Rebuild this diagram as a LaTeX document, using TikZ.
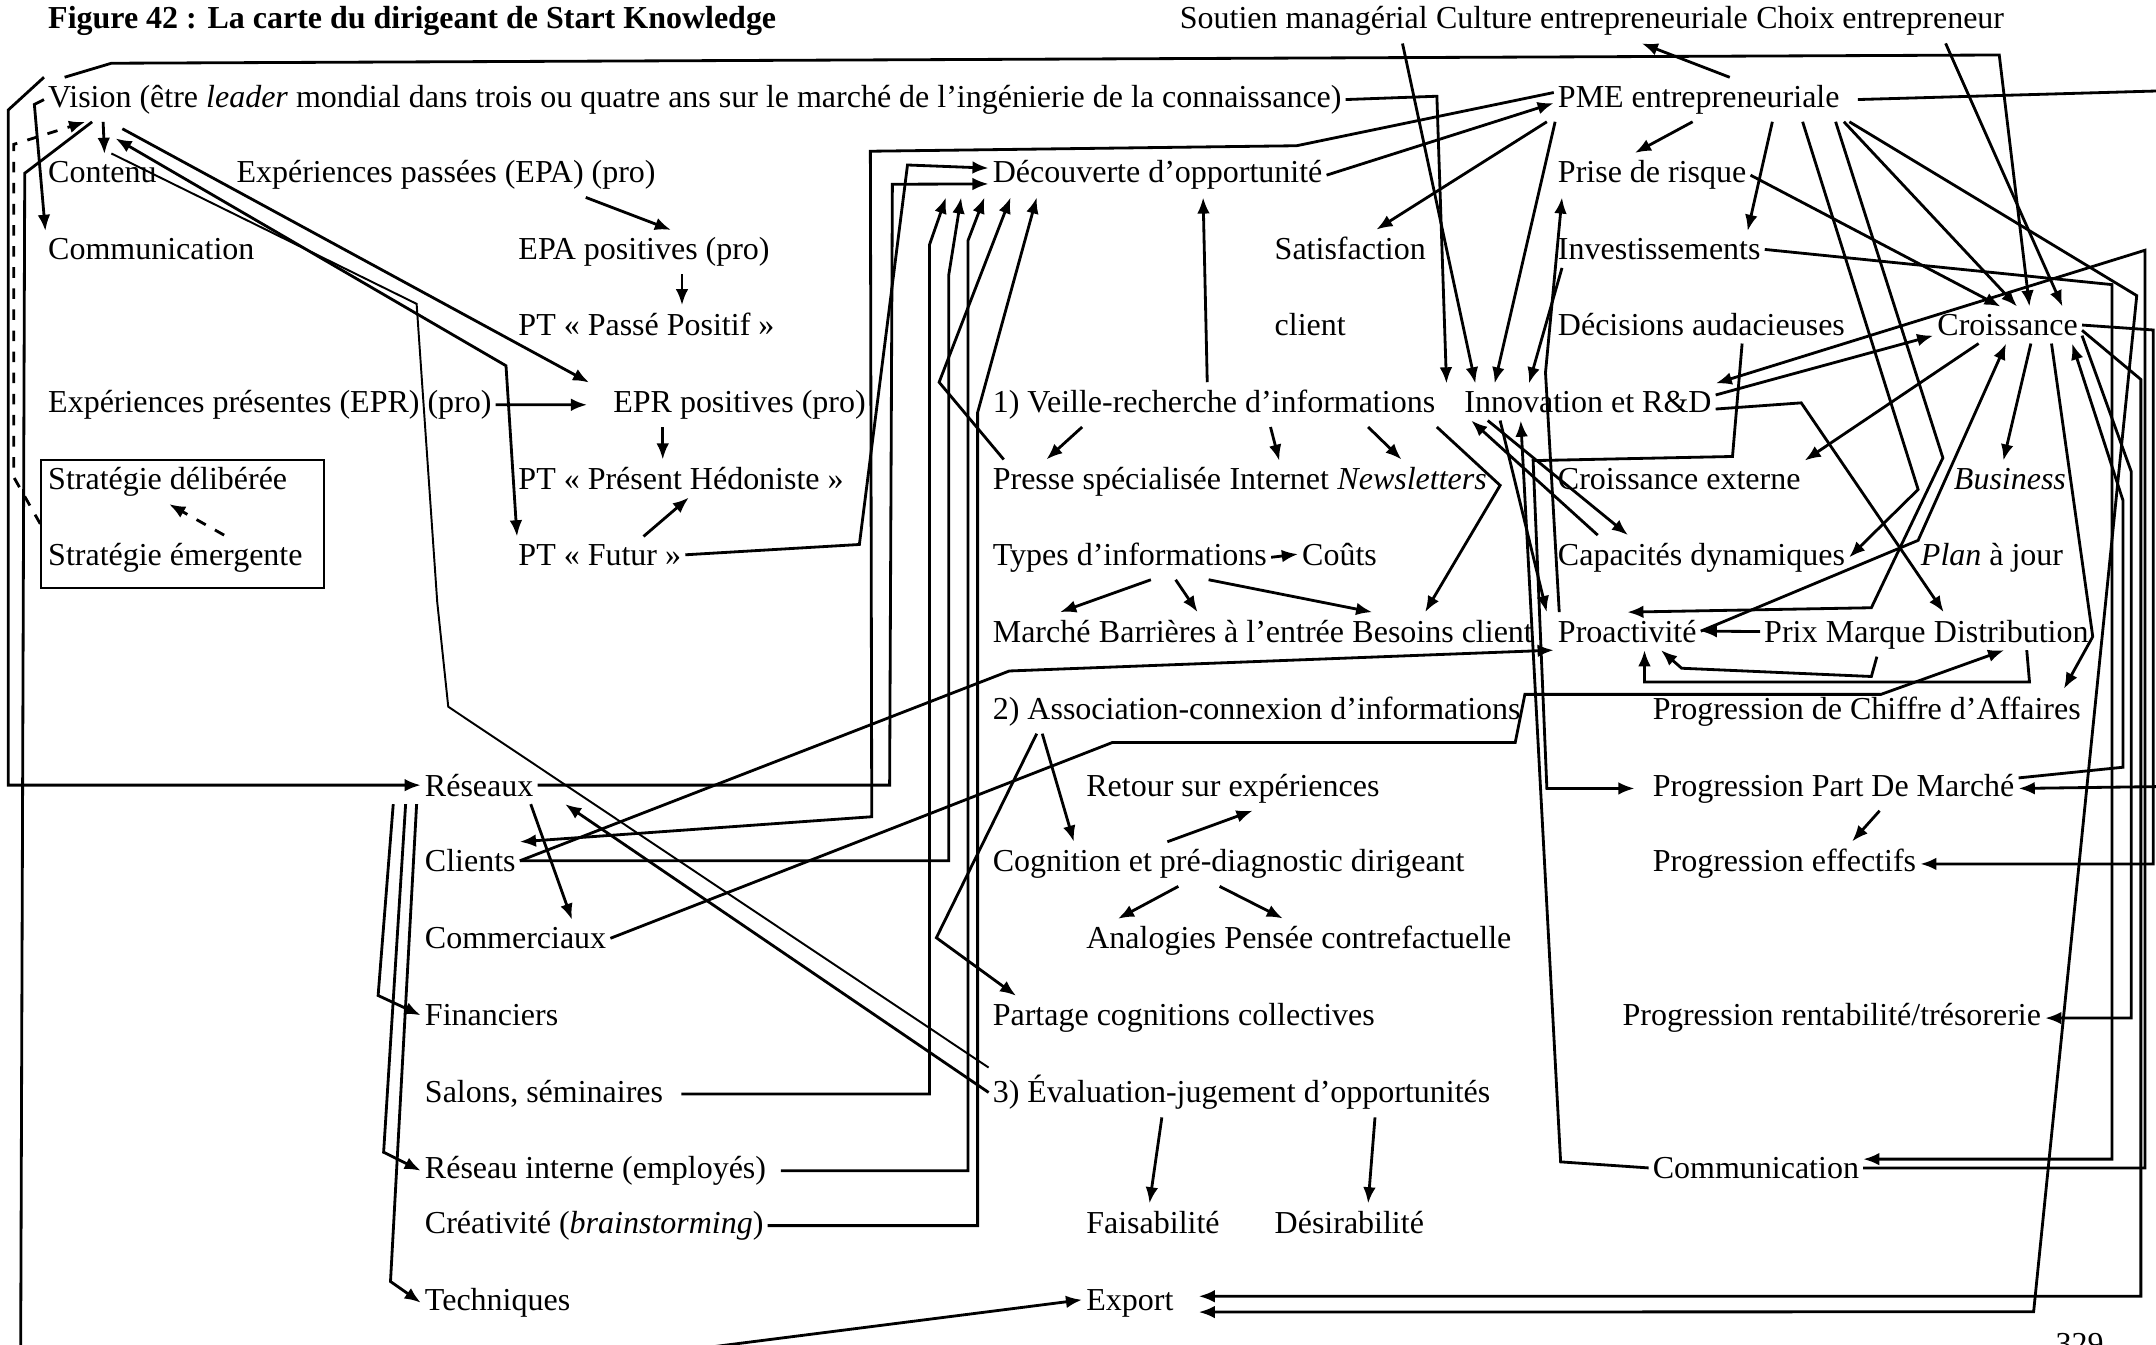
\documentclass[tikz,border=0pt]{standalone}
\usepackage{fontspec}
\setmainfont{Liberation Serif}
\usetikzlibrary{arrows.meta, positioning, calc}

\begin{document}
\begin{tikzpicture}[%
  x=0.01375cm, y=-0.01375cm,%
  txt/.style={anchor=base west, inner xsep=1pt, inner ysep=2pt, font=\fontsize{9.1}{11}\selectfont},%
  word/.style={txt, right=0pt of #1, anchor=base west},%
  arr/.style={-{Latex[length=4.6pt,width=3.6pt]}, line width=0.8pt},%
  biarr/.style={{Latex[length=4.6pt,width=3.6pt]}-{Latex[length=4.6pt,width=3.6pt]}, line width=0.8pt},%
  link/.style={line width=0.55pt},%
  darr/.style={arr, dashed}%
]
\useasboundingbox (0,0) rectangle (1568,978);

% titles
\node[txt, font=\fontsize{9.1}{11}\selectfont\bfseries] (titre) at (32,21) {Figure 42 : La carte du dirigeant de Start Knowledge};
\node[txt] (soutien) at (855,21) {Soutien managérial};
\node[word=soutien.base east] (culture) {Culture entrepreneuriale};
\node[word=culture.base east] (choix) {Choix entrepreneur};

% left column
\node[txt] (vision) at (32,78) {Vision (être \textit{leader} mondial dans trois ou quatre ans sur le marché de l’ingénierie de la connaissance)};
\node[txt] (contenu) at (32,133) {Contenu};
\node[txt] (epa) at (169,133) {Expériences passées (EPA) (pro)};
\node[txt] (comm) at (32,189) {Communication};
\node[txt] (epr) at (32,300) {Expériences présentes (EPR) (pro)};
\node[txt] (sdel) at (32,356) {Stratégie délibérée};
\node[txt] (sem) at (32,411) {Stratégie émergente};
\node[draw, line width=0.6pt, minimum width=2.83cm, minimum height=1.28cm, inner sep=0pt] (strat) at (133,381) {};

% perspectives temporelles
\node[txt] (epap) at (374,189) {EPA positives (pro)};
\node[txt] (ptpp) at (374,244) {PT « Passé Positif »};
\node[txt] (eprp) at (443,300) {EPR positives (pro)};
\node[txt] (ptph) at (374,356) {PT « Présent Hédoniste »};
\node[txt] (ptf) at (374,411) {PT « Futur »};

% reseaux
\node[txt] (reseaux) at (306,579) {Réseaux};
\node[txt] (clients) at (306,634) {Clients};
\node[txt] (commerciaux) at (306,690) {Commerciaux};
\node[txt] (financiers) at (306,746) {Financiers};
\node[txt] (salons) at (306,802) {Salons, séminaires};
\node[txt] (rinterne) at (306,857) {Réseau interne (employés)};
\node[txt] (creativite) at (306,897) {Créativité (\textit{brainstorming})};
\node[txt] (techniques) at (306,953) {Techniques};

% processus d'opportunite
\node[txt] (decouverte) at (719,133) {Découverte d’opportunité};
\node[txt] (veille) at (719,300) {1) Veille-recherche d’informations};
\node[txt] (presse) at (719,356) {Presse spécialisée};
\node[word=presse.base east] (internet) {Internet};
\node[word=internet.base east] (newsletters) {\textit{Newsletters}};
\node[txt] (types) at (719,411) {Types d’informations};
\node[txt] (couts) at (944,411) {Coûts};
\node[txt] (marche) at (719,467) {Marché};
\node[word=marche.base east] (barrieres) {Barrières à l’entrée};
\node[word=barrieres.base east] (besoins) {Besoins client};
\node[txt] (assoc) at (719,523) {2) Association-connexion d’informations};
\node[txt] (retour) at (787,579) {Retour sur expériences};
\node[txt] (cognition) at (719,634) {Cognition et pré-diagnostic dirigeant};
\node[txt] (analogies) at (787,690) {Analogies};
\node[word=analogies.base east] (pensee) {Pensée contrefactuelle};
\node[txt] (partage) at (719,746) {Partage cognitions collectives};
\node[txt] (evaluation) at (719,802) {3) Évaluation-jugement d’opportunités};
\node[txt] (faisabilite) at (787,897) {Faisabilité};
\node[txt] (desirabilite) at (924,897) {Désirabilité};
\node[txt] (export) at (787,953) {Export};

% PME
\node[txt] (satisfaction) at (924,189) {Satisfaction};
\node[txt] (client) at (924,244) {client};
\node[txt] (innovation) at (1062,300) {Innovation et R\&D};
\node[txt] (pme) at (1130,78) {PME entrepreneuriale};
\node[txt] (risque) at (1130,133) {Prise de risque};
\node[txt] (invest) at (1130,189) {Investissements};
\node[txt] (decisions) at (1130,244) {Décisions audacieuses};
\node[txt] (croissance) at (1406,244) {Croissance};
\node[txt] (cexterne) at (1130,356) {Croissance externe};
\node[txt] (business) at (1418,356) {\textit{Business}};
\node[txt] (capacites) at (1130,411) {Capacités dynamiques};
\node[txt] (plan) at (1394,411) {\textit{Plan} à jour};
\node[txt] (proactivite) at (1130,467) {Proactivité};
\node[txt] (prix) at (1280,467) {Prix};
\node[word=prix.base east] (marque) {Marque};
\node[word=marque.base east] (distribution) {Distribution};
\node[txt] (pca) at (1199,523) {Progression de Chiffre d’Affaires};
\node[txt] (ppm) at (1199,579) {Progression Part De Marché};
\node[txt] (peff) at (1199,634) {Progression effectifs};
\node[txt] (prent) at (1177,746) {Progression rentabilité/trésorerie};
\node[txt] (commR) at (1199,857) {Communication};
\node[txt] (page) at (1492,985) {329};

% vision
\draw[arr] (75,0 |- vision.south) -- (76,0 |- contenu.north);
\draw[arr] (vision.west) -- (25,76) -- (33,0 |- comm.north);
\draw[arr] (vision.north west) -- (6,80) |- (reseaux.west);
\draw[arr] (47,0 |- vision.north) -- (81,46) -- (1454,40) -- (1476,0 |- croissance.north);
\draw[arr] (67,0 |- vision.south) -- (18,126) -- (15,992) -- (420,992) -- ([yshift=1pt]export.west);
\draw[darr] (strat.west) -- (10,347) -- (10,105) -- (62,0 |- vision.south);
\draw[arr] ($(vision.south west)+(57,5)$) -- ([xshift=-0.2cm]eprp.north west);
\draw[biarr] ($(vision.south west)+(52,12)$) -- (368,266) -- (376,0 |- ptf.north);
\draw[link] ($(vision.south west)+(49,23)$) -- (303,221) -- (318,438) -- (326,514) -- (evaluation.north west);
\draw[arr] (vision.east) -- (1045,70) -- (1052,0 |- innovation.north);

% experiences
\draw[arr] (426,0 |- epa.south) -- (488,0 |- epap.north);
\draw[arr] (496,0 |- epap.south) -- (496,0 |- ptpp.north);
\draw[arr] (epr.east) -- ([xshift=-0.22cm]eprp.west);
\draw[arr] (482,0 |- eprp.south) -- (482,0 |- ptph.north);
\draw[arr] (468,0 |- ptf.north) -- (501,0 |- ptph.south);
\draw[darr] (163,0 |- sem.north) -- (123,0 |- sdel.south);
\draw[arr] (ptf.east) -- (625,396) -- (660,120) -- ([yshift=2pt]decouverte.west);

% reseaux
\draw[arr] (reseaux.east) -- (647,0 |- reseaux.east) -- (649,134) -- ([yshift=-2.5pt]decouverte.west);
\draw[arr] ([yshift=2pt]pme.west) -- (943,106) -- (633,110) -- (634,594) -- (clients.north east);
\draw[arr] (clients.east) -| (690,200) -- (699,0 |- decouverte.south);
\draw[arr] ([xshift=4pt]salons.east) -| (676,178) -- (688,0 |- decouverte.south);
\draw[arr] ([xshift=3pt]rinterne.east) -| (704,175) -- (716,0 |- decouverte.south);
\draw[arr] (creativite.east) -| (711,300) -- (754,0 |- decouverte.south);
\draw[arr] (730,0 |- presse.north) -- (683,278) -- (735,0 |- decouverte.south);
\draw[arr] (evaluation.west) -- (411,0 |- reseaux.south);
\draw[arr] (386,0 |- reseaux.south) -- (416,0 |- commerciaux.north);
\draw[arr] (286,0 |- reseaux.south) -- (275,724) -- (financiers.west);
\draw[arr] (295,0 |- reseaux.south) -- (279,838) -- (rinterne.west);
\draw[arr] (303,0 |- reseaux.south) -- (284,932) -- (techniques.west);
\draw[arr] (commerciaux.east) -- (809,540) -- (1102,540) -- (1109,505) -- (1368,505) -- ([xshift=-2pt]distribution.south);
\draw[arr] (clients.east) -- (734,488) -- (proactivite.south west);

% veille, association, evaluation
\draw[arr] (878,0 |- veille.north) -- (875,0 |- decouverte.south);
\draw[arr] (787,0 |- veille.south) -- (761,0 |- presse.north);
\draw[arr] (924,0 |- veille.south) -- (internet.north);
\draw[arr] (995,0 |- veille.south) -- ([xshift=-3pt]newsletters.north);
\draw[arr] (1045,0 |- veille.south) -- (1091,353) -- ([xshift=-5pt]besoins.north);
\draw[arr] (types.east) -- (couts.west);
\draw[arr] (837,0 |- types.south) -- (771,0 |- marche.north);
\draw[arr] (855,0 |- types.south) -- (871,0 |- barrieres.north);
\draw[arr] (879,0 |- types.south) -- (998,0 |- besoins.north);
\draw[arr] (754,0 |- assoc.south) -- (681,682) -- (739,0 |- partage.north);
\draw[arr] (758,0 |- assoc.south) -- (781,0 |- cognition.north);
\draw[arr] (849,0 |- cognition.north) -- (911,0 |- retour.south);
\draw[arr] (857,0 |- cognition.south) -- (813,0 |- analogies.north);
\draw[arr] (887,0 |- cognition.south) -- (933,0 |- pensee.north);
\draw[arr] (845,0 |- evaluation.south) -- (836,0 |- faisabilite.north);
\draw[arr] (1000,0 |- evaluation.south) -- (995,0 |- desirabilite.north);

% PME entrepreneuriale
\draw[arr] (1020,0 |- soutien.south) -- (1073,0 |- innovation.north);
\draw[arr] (decouverte.east) -- ([yshift=-1pt]pme.west);
\draw[arr] (1131,0 |- pme.south) -- (1087,0 |- innovation.north);
\draw[arr] (1125,0 |- pme.south) -- (1001,0 |- satisfaction.north);
\draw[arr] (1231,0 |- pme.south) -- (1189,0 |- risque.north);
\draw[arr] (1289,0 |- pme.south) -- (1271,0 |- invest.north);
\draw[arr] (1258,0 |- pme.north) -- (1194,0 |- culture.south);
\draw[arr] (1341,0 |- pme.south) -- (1467,0 |- croissance.north);
\draw[arr] (risque.east) -- (1455,0 |- croissance.north);
\draw[arr] (1415,0 |- choix.south) -- (1500,0 |- croissance.north);
\draw[arr] (1311,0 |- pme.south) -- (1395,356) -- (capacites.east);
\draw[arr] (1335,0 |- pme.south) -- (1413,333) -- (1361,442) -- (proactivite.north);
\draw[arr] (1345,0 |- pme.south) -- (1554,215) -- (1479,954) -- ([xshift=6pt,yshift=-2.5pt]export.east);
\draw[arr] ([xshift=4pt]pme.east) -- (1575,66) -- (1575,572) -- (ppm.east);
\draw[arr] (1136,0 |- invest.south) -- (1112,0 |- innovation.north);

% innovation, croissance
\draw[arr] ([yshift=2pt]innovation.east) -- ([yshift=-3pt]croissance.west);
\draw[arr] (commR.east) -- (1560,0 |- commR.east) -- (1560,182) -- (innovation.north east);
\draw[arr] ([yshift=-2pt]innovation.east) -- (1310,293) -- ([xshift=4pt]distribution.north west);
\draw[arr] (1082,0 |- innovation.south) -- (1184,0 |- capacites.north);
\draw[arr] (1162,0 |- capacites.north) -- (1070,0 |- innovation.south);
\draw[arr] (1091,0 |- innovation.south) -- ([xshift=-2pt]proactivite.north west);
\draw[arr] (commR.west) -- (1135,845) -- (1106,0 |- innovation.south);
\draw[arr] (1134,0 |- proactivite.north) -- (1124,271) -- (1136,0 |- risque.south);
\draw[arr] (1267,0 |- decisions.south) -- (1260,332) -- (1115,335) -- (1125,0 |- ppm.west) -- ([xshift=-4pt]ppm.west);
\draw[arr] (1439,0 |- croissance.south) -- (cexterne.north east);
\draw[arr] (1477,0 |- croissance.south) -- (1457,0 |- business.north);
\draw[arr] (proactivite.east) -- (1395,393) -- (1459,0 |- croissance.south);
\draw[arr] (1492,0 |- croissance.south) -- (1522,463) -- ([xshift=-6pt]pca.north east);
\draw[arr] ([yshift=3pt]ppm.east) -- (1544,558) -- (1544,364) -- (1507,0 |- croissance.south);
\draw[arr] ([yshift=-3pt]croissance.east) -- (1550,343) |- (prent.east);
\draw[arr] ([yshift=-1.5pt]croissance.east) -- (1557,276) |- ([xshift=6pt,yshift=2pt]export.east);
\draw[arr] (croissance.east) -- (1566,240) |- (peff.east);
\draw[arr] (invest.east) -- (1536,207) |- ([yshift=2.5pt]commR.east);
\draw[arr] (1367,0 |- ppm.south) -- (1347,0 |- peff.north);

% proactivite
\draw[arr] (prix.west) -- (proactivite.east);
\draw[arr] (1365,0 |- marque.south) -- (1361,492) -- (1223,486) -- (1208,0 |- proactivite.south);
\draw[arr] (1474,0 |- distribution.south) -- (1476,496) -- (1196,496) -- (1196,0 |- proactivite.south);
\end{tikzpicture}
\end{document}
